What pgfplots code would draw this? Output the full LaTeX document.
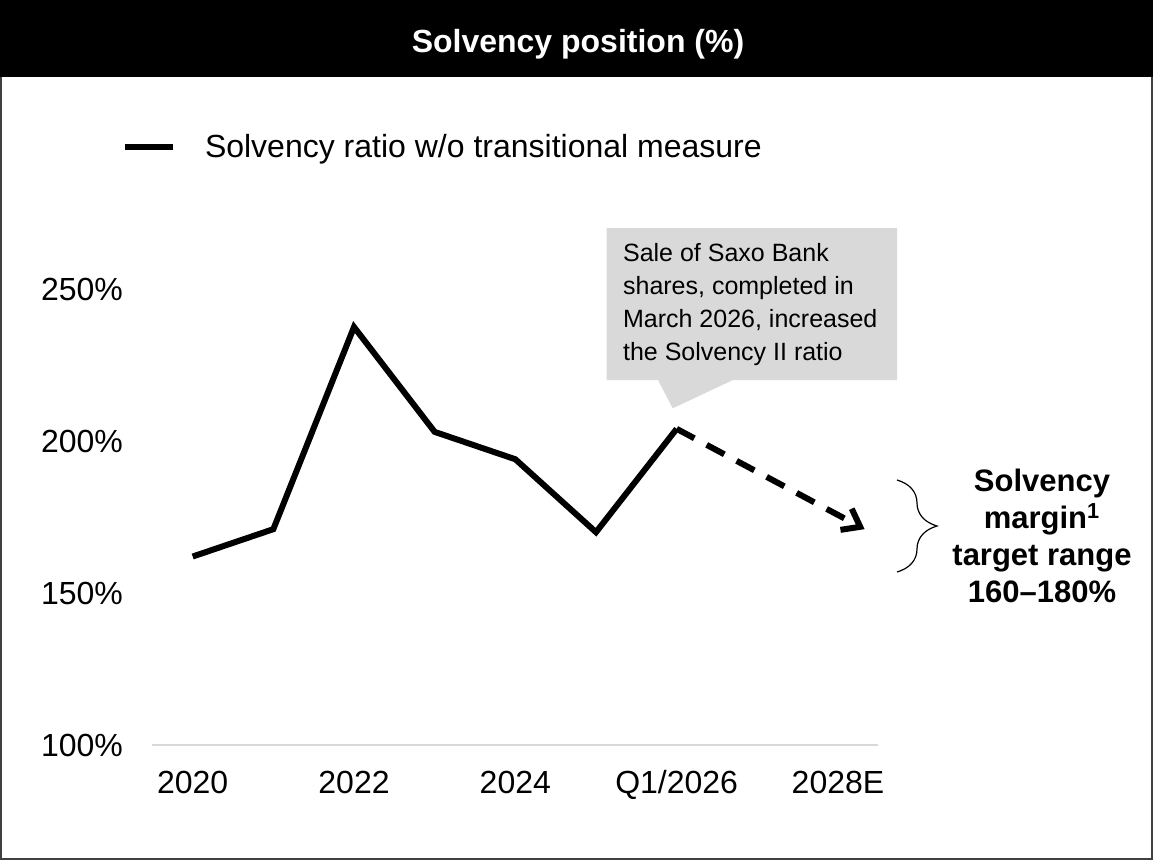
\documentclass[border=0pt]{standalone}
\usepackage{fontspec}
\setmainfont{Liberation Sans}
\usepackage{pgfplots}
\pgfplotsset{compat=1.18}
\usetikzlibrary{arrows.meta,decorations.pathreplacing}
\definecolor{callgray}{HTML}{D9D9D9}

\begin{document}
\begin{tikzpicture}
\useasboundingbox (0,0) rectangle (576.5bp,-430bp);
% header band and frame
\fill[black] (0,0) rectangle (576.5bp,-38.5bp);
\draw[black!75, line width=1bp] (0.5bp,-38.5bp) -- (0.5bp,-429.5bp) -- (576bp,-429.5bp) -- (576bp,-38.5bp);
\node[white, font=\bfseries\fontsize{16bp}{19bp}\selectfont, anchor=base] at (289bp,-26bp) {Solvency position (\%)};

% callout
\fill[callgray] (303.35bp,-114bp) -- (448.5bp,-114bp) -- (448.5bp,-190bp) -- (366.5bp,-190bp)
  -- (336.35bp,-204.15bp) -- (329bp,-190bp) -- (303.35bp,-190bp) -- cycle;
\node[anchor=north west, inner sep=0pt, align=left, font=\fontsize{12.5bp}{16.5bp}\selectfont]
  at (311.35bp,-121.5bp) {Sale of Saxo Bank\\shares, completed in\\March 2026, increased\\the Solvency II ratio};

\begin{axis}[
  at={(76.175bp,-372.5bp)}, anchor=south west,
  scale only axis, width=363bp, height=243.2bp,
  xmin=-0.5, xmax=8.5, ymin=100, ymax=260,
  clip=false,
  axis x line=bottom, axis y line=left,
  x axis line style={-, draw=callgray, line width=1bp},
  y axis line style={draw=none},
  major tick length=0pt,
  xtick={0,2,4,6,8}, xticklabels={2020,2022,2024,Q1/2026,2028E},
  ytick={100,150,200,250}, yticklabels={100\%,150\%,200\%,250\%},
  ticklabel style={font=\fontsize{16bp}{19bp}\selectfont, inner sep=0pt},
  xticklabel style={anchor=base, yshift=-24bp},
  yticklabel style={anchor=east, xshift=-14.5bp},
  legend style={at={(-0.0418,1.2295)}, anchor=west, draw=none, fill=none,
    inner sep=0pt, outer sep=0pt, column sep=14.5bp,
    font=\fontsize{16bp}{19bp}\selectfont, nodes={inner sep=0pt}},
  legend image code/.code={\draw[#1, line width=3bp, solid] (0bp,0bp) -- (24bp,0bp);},
]
\addplot[black, line width=3bp] coordinates {
  (0,162) (1,171) (2,237.5) (3,203) (4,194) (5,170) (6,204)
};
\addlegendentry{Solvency ratio w/o transitional measure}
% outlook to 2028E
\addplot[black, line width=3bp, dash pattern=on 10bp off 7bp,
  -{Straight Barb[length=8bp,width=12bp,sharp]}, forget plot] coordinates {
  (6,204) (8.33,171)
};
\end{axis}

% target range annotation
\draw[decorate, decoration={brace, amplitude=20bp}, line width=0.6bp] (448.5bp,-240bp) -- (448.5bp,-286bp);
\node[align=center, font=\bfseries\fontsize{15.5bp}{18.5bp}\selectfont] at (521bp,-268bp)
  {Solvency\\margin\textsuperscript{1}\\target range\\160--180\%};
\end{tikzpicture}
\end{document}
